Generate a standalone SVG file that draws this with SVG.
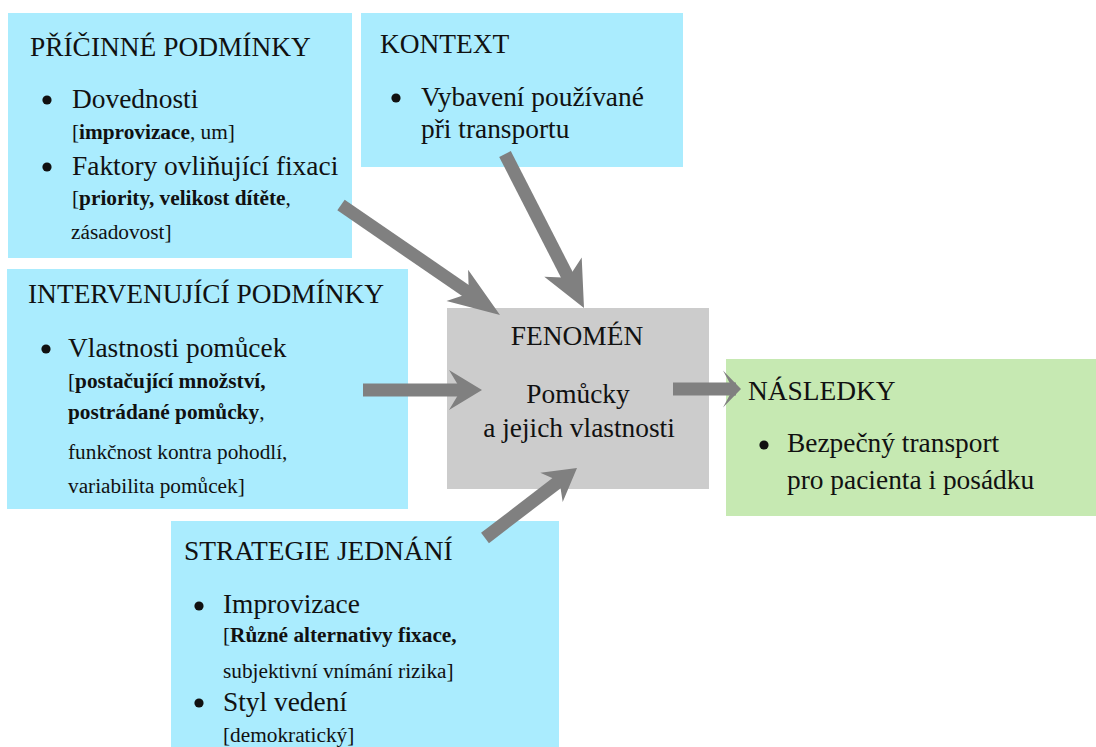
<svg xmlns="http://www.w3.org/2000/svg" width="1096" height="747" viewBox="0 0 1096 747">
<style>
.blue{fill:#aaecfe}
.gray{fill:#cccccc}
.green{fill:#c6e9b2}
text{fill:#111;font-family:"Liberation Serif","Times New Roman",serif}
.t{font-size:27.4px}
.s{font-size:21.3px}
.b{font-weight:bold}
.dot{fill:#111}
.shaft{stroke:#808080;stroke-width:13;fill:none}
.head{fill:#808080}
</style>
<rect width="1096" height="747" fill="#ffffff"/>
<g id="pricinne">
<rect class="blue" x="8" y="13" width="344" height="245"/>
<text class="t" x="30" y="56">PŘÍČINNÉ PODMÍNKY</text>
<circle class="dot" cx="47" cy="100" r="4.6"/>
<text class="t" x="72" y="108">Dovednosti</text>
<text class="s" x="72" y="139">[<tspan class="b">improvizace</tspan>, um]</text>
<circle class="dot" cx="47" cy="167" r="4.6"/>
<text class="t" x="72" y="175">Faktory ovliňující fixaci</text>
<text class="s" x="72" y="205">[<tspan class="b">priority, velikost dítěte</tspan>,</text>
<text class="s" x="71" y="239">zásadovost]</text>
</g>

<g id="kontext">
<rect class="blue" x="361" y="13" width="322" height="154"/>
<text class="t" x="380" y="53">KONTEXT</text>
<circle class="dot" cx="396" cy="98" r="4.6"/>
<text class="t" x="421" y="106">Vybavení používané</text>
<text class="t" x="421" y="138">při transportu</text>
</g>

<g id="intervenujici">
<rect class="blue" x="7" y="269" width="401" height="240"/>
<text class="t" x="28" y="303">INTERVENUJÍCÍ PODMÍNKY</text>
<circle class="dot" cx="46" cy="349" r="4.6"/>
<text class="t" x="68" y="357">Vlastnosti pomůcek</text>
<text class="s" x="68" y="388">[<tspan class="b">postačující množství,</tspan></text>
<text class="s" x="68" y="419"><tspan class="b">postrádané pomůcky</tspan>,</text>
<text class="s" x="68" y="459">funkčnost kontra pohodlí,</text>
<text class="s" x="68" y="493">variabilita pomůcek]</text>
</g>

<g id="fenomen">
<rect class="gray" x="447" y="308" width="262" height="181"/>
<text class="t" x="577" y="345" text-anchor="middle">FENOMÉN</text>
<text class="t" x="578" y="403" text-anchor="middle">Pomůcky</text>
<text class="t" x="579" y="437" text-anchor="middle">a jejich vlastnosti</text>
</g>

<g id="nasledky">
<rect class="green" x="726" y="359" width="370" height="157"/>
<text class="t" x="748" y="400">NÁSLEDKY</text>
<circle class="dot" cx="764" cy="445" r="4.6"/>
<text class="t" x="787" y="452">Bezpečný transport</text>
<text class="t" x="787" y="489">pro pacienta i posádku</text>
</g>

<g id="strategie">
<rect class="blue" x="171" y="521" width="388" height="226"/>
<text class="t" x="184" y="560">STRATEGIE JEDNÁNÍ</text>
<circle class="dot" cx="199" cy="606" r="4.6"/>
<text class="t" x="223" y="613">Improvizace</text>
<text class="s" x="223" y="642">[<tspan class="b">Různé alternativy fixace,</tspan></text>
<text class="s" x="223" y="678">subjektivní vnímání rizika]</text>
<circle class="dot" cx="199" cy="703" r="4.6"/>
<text class="t" x="223" y="711">Styl vedení</text>
<text class="s" x="223" y="742">[demokratický]</text>
</g>

<g id="connectors">
<g id="a1">
<line class="shaft" x1="341" y1="205" x2="472" y2="295"/>
<polygon class="head" points="500,315 446.5,301 468.8,293.4 468.1,269.8"/>
</g>
<g id="a2">
<line class="shaft" x1="505" y1="154" x2="570" y2="281"/>
<polygon class="head" points="584,308 544.3,276.7 568.5,277.7 581.7,257.5"/>
</g>
<g id="a3">
<line class="shaft" x1="363" y1="390" x2="465" y2="390"/>
<polygon class="head" points="482,390 449,370 461,390 449,410"/>
</g>
<g id="a4">
<line class="shaft" x1="485" y1="538" x2="562" y2="479"/>
<polygon class="head" points="577,468 540.3,472.7 559.5,481.3 562.7,502.1"/>
</g>
<g id="a5">
<line class="shaft" x1="673" y1="389" x2="736" y2="389"/>
<polygon class="head" points="741,389 723,370.5 733,389 723,407.5"/>
</g>
</g>
</svg>
